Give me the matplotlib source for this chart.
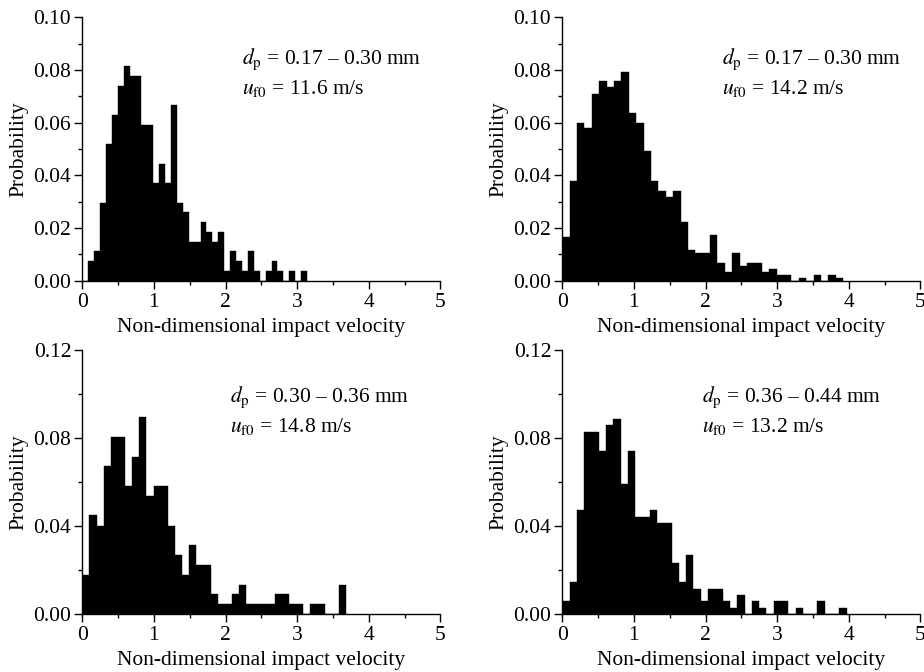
import matplotlib
matplotlib.use("Agg")
import matplotlib.pyplot as plt
from matplotlib.ticker import MultipleLocator, FormatStrFormatter

plt.rcParams['font.family'] = ['Liberation Serif', 'DejaVu Serif']
plt.rcParams['mathtext.fontset'] = 'stix'
plt.rcParams['font.size'] = 15.5

# ---- data (probability per bin, bins start at 0) ----
bin_width_1 = 0.0826
prob_1 = [0, 0.0074, 0.0111, 0.0296, 0.0518, 0.0629, 0.0740, 0.0814, 0.0777, 0.0777,
          0.0592, 0.0592, 0.0370, 0.0444, 0.0370, 0.0666, 0.0296, 0.0259, 0.0148, 0.0148,
          0.0222, 0.0185, 0.0148, 0.0185, 0.0037, 0.0111, 0.0074, 0.0037, 0.0111, 0.0037,
          0, 0.0037, 0.0074, 0.0037, 0, 0.0037, 0, 0.0037]

bin_width_2 = 0.1032
prob_2 = [0.0167, 0.0380, 0.0600, 0.0580, 0.0709, 0.0757, 0.0734, 0.0757, 0.0792, 0.0638,
          0.0600, 0.0494, 0.0380, 0.0342, 0.0319, 0.0342, 0.0223, 0.0117, 0.0104, 0.0104,
          0.0175, 0.0068, 0.0033, 0.0104, 0.0056, 0.0068, 0.0068, 0.0033, 0.0045, 0.0023,
          0.0023, 0, 0.0011, 0, 0.0023, 0, 0.0023, 0.0011]

bin_width_3 = 0.0995
prob_3 = [0.0179, 0.0448, 0.0400, 0.0673, 0.0806, 0.0806, 0.0582, 0.0715, 0.0897, 0.0536,
          0.0582, 0.0582, 0.0400, 0.0267, 0.0179, 0.0312, 0.0224, 0.0224, 0.0089, 0.0045,
          0.0045, 0.0089, 0.0134, 0.0045, 0.0045, 0.0045, 0.0045, 0.0089, 0.0089, 0.0045,
          0.0045, 0, 0.0045, 0.0045, 0, 0, 0.0134]

bin_width_4 = 0.1018
prob_4 = [0.0058, 0.0145, 0.0473, 0.0827, 0.0827, 0.0739, 0.0858, 0.0888, 0.0591, 0.0739,
          0.0442, 0.0442, 0.0473, 0.0412, 0.0412, 0.0233, 0.0145, 0.0267, 0.0115, 0.0058,
          0.0115, 0.0115, 0.0058, 0.0027, 0.0088, 0, 0.0058, 0.0027, 0, 0.0058,
          0.0058, 0, 0.0027, 0, 0, 0.0058, 0, 0, 0.0027]

dp_labels = ["0.17 \u2013 0.30 mm", "0.17 \u2013 0.30 mm", "0.30 \u2013 0.36 mm", "0.36 \u2013 0.44 mm"]
uf_labels = ["11.6 m/s", "14.2 m/s", "14.8 m/s", "13.2 m/s"]
x_label = "Non-dimensional impact velocity"
y_label = "Probability"

W, H = 924, 672
fig = plt.figure(figsize=(W / 100, H / 100), dpi=100)

# pixel layout: (left, top, width, height)
rects = [(82.3, 17.3, 358, 263.4), (562.3, 17.3, 358, 263.4),
         (82.3, 350.0, 358, 264.0), (562.3, 350.0, 358, 264.0)]
widths = [bin_width_1, bin_width_2, bin_width_3, bin_width_4]
probs = [prob_1, prob_2, prob_3, prob_4]
ymax = [0.10, 0.10, 0.12, 0.12]
ymajor = [0.02, 0.02, 0.04, 0.04]
text_x = [0.445, 0.445, 0.4125, 0.389]
text_y = [(0.823, 0.709), (0.823, 0.709), (0.803, 0.689), (0.803, 0.689)]

for i in range(4):
    l, t, w, h = rects[i]
    ax = fig.add_axes([l / W, (H - t - h) / H, w / W, h / H])
    bw = widths[i]
    lefts = [k * bw for k in range(len(probs[i]))]
    ax.bar(lefts, probs[i], width=bw, align='edge', color='black',
           edgecolor='black', linewidth=0.3)
    ax.set_xlim(0, 5)
    ax.set_ylim(0, ymax[i])
    ax.spines['top'].set_visible(False)
    ax.spines['right'].set_visible(False)
    for s in ('left', 'bottom'):
        ax.spines[s].set_linewidth(1.0)
    ax.xaxis.set_major_locator(MultipleLocator(1))
    ax.xaxis.set_minor_locator(MultipleLocator(0.5))
    ax.yaxis.set_major_locator(MultipleLocator(ymajor[i]))
    ax.yaxis.set_minor_locator(MultipleLocator(ymajor[i] / 2))
    ax.yaxis.set_major_formatter(FormatStrFormatter('%.2f'))
    ax.tick_params(which='major', direction='out', length=5.5, width=1.0)
    ax.tick_params(which='minor', direction='out', length=3, width=1.0)
    ax.tick_params(axis='x', which='major', pad=3)
    ax.tick_params(axis='y', which='major', pad=2.5)
    ax.set_xlabel(x_label, labelpad=4.5)
    ax.set_ylabel(y_label, labelpad=3.5)
    ax.text(text_x[i], text_y[i][0], r'$d_\mathrm{p}$ = ' + dp_labels[i],
            transform=ax.transAxes, ha='left', va='baseline')
    ax.text(text_x[i], text_y[i][1], r'$u_\mathrm{f0}$ = ' + uf_labels[i],
            transform=ax.transAxes, ha='left', va='baseline')

fig.savefig("out.png", dpi=100)
